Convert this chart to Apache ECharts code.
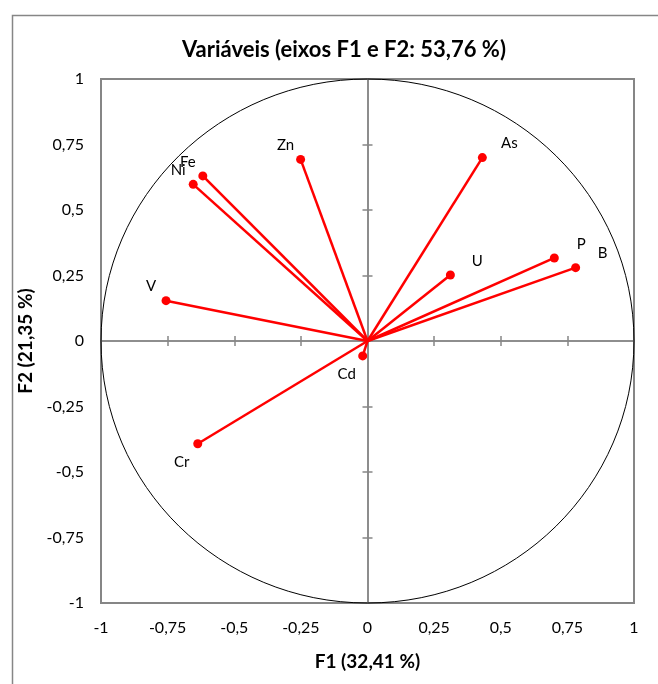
<!DOCTYPE html>
<html>
<head>
<meta charset="utf-8">
<script src="https://cdn.jsdelivr.net/npm/echarts@6/dist/echarts.min.js"></script>
<style>
  html, body { margin: 0; padding: 0; background: #fff; }
  #one { width: 658px; height: 684px; }
</style>
</head>
<body>
<div id="one"></div>
<script>
// variaveis e coordenadas (F1, F2)
var variables = ['Zn', 'Fe', 'Ni', 'V', 'As', 'U', 'P', 'B', 'Cd', 'Cr'];
var f1 = [-0.251, -0.618, -0.654, -0.756, 0.431, 0.311, 0.701, 0.781, -0.018, -0.637];
var f2 = [0.693, 0.630, 0.598, 0.154, 0.700, 0.252, 0.317, 0.280, -0.057, -0.392];
var tickLabels = ['-1', '-0,75', '-0,5', '-0,25', '0', '0,25', '0,5', '0,75', '1'];

var gray = '#868686';
var font = 'Lato';

function tickFmt(v) {
    return tickLabels[Math.round((v + 1) / 0.25)];
}

function labelOffset(x, y) {
    if (y < 0) return [-16, 18];
    if (x < 0) return [-15, -14];
    return [27, -14];
}

function baseAxis(pos) {
    return {
        type: 'value', min: -1, max: 1, interval: 0.25, position: pos,
        splitLine: { show: false },
        axisLabel: { show: false },
        axisTick: { show: false },
        axisLine: { show: false, onZero: false }
    };
}

// eixo com rotulos (na borda) + dois eixos no zero (marcas para os dois lados)
function axisSet(dim) {
    var pos = dim === 'x' ? 'bottom' : 'left';
    var labelAxis = baseAxis(pos);
    labelAxis.axisLabel = {
        show: true, formatter: tickFmt, color: '#000',
        fontFamily: font, fontSize: 16, margin: 17
    };
    labelAxis.nameLocation = 'middle';
    labelAxis.nameTextStyle = { fontFamily: font, fontWeight: 'bold', fontSize: 19, color: '#000' };
    if (dim === 'x') {
        labelAxis.name = 'F1 (32,41 %)';
        labelAxis.nameGap = 49;
    } else {
        labelAxis.name = 'F2 (21,35 %)';
        labelAxis.nameGap = 63;
        labelAxis.nameRotate = 90;
    }
    var list = [labelAxis];
    [false, true].forEach(function (inside) {
        var a = baseAxis(pos);
        a.axisLine = { show: true, onZero: true, lineStyle: { color: gray, width: 1.5 } };
        a.axisTick = { show: true, inside: inside, length: 5, lineStyle: { color: gray, width: 1.5 } };
        list.push(a);
    });
    return list;
}

var vecSeries = variables.map(function (n, i) {
    return {
        name: n,
        type: 'line',
        xAxisIndex: 0,
        yAxisIndex: 0,
        symbol: 'circle',
        symbolSize: 9,
        lineStyle: { color: '#ff0000', width: 2.5 },
        itemStyle: { color: '#ff0000' },
        z: 5,
        data: [
            { value: [0, 0], symbol: 'none', label: { show: false } },
            {
                value: [f1[i], f2[i]],
                label: {
                    show: true, formatter: n, position: 'inside',
                    offset: labelOffset(f1[i], f2[i]),
                    color: '#000', fontFamily: font, fontSize: 15
                }
            }
        ]
    };
});

var circle = {
    type: 'custom',
    xAxisIndex: 0,
    yAxisIndex: 0,
    silent: true,
    z: 1,
    data: [[0, 0]],
    renderItem: function (params, api) {
        var c = api.coord([0, 0]);
        var e = api.coord([1, 1]);
        return {
            type: 'ellipse',
            shape: { cx: c[0], cy: c[1], rx: e[0] - c[0], ry: c[1] - e[1] },
            style: { fill: 'none', stroke: '#000', lineWidth: 1 }
        };
    }
};

var myChart = echarts.init(document.getElementById('one'));
var option = {
    animation: false,
    backgroundColor: '#fff',
    title: {
        text: 'Variáveis (eixos F1 e F2: 53,76 %)',
        left: 177,
        top: 34,
        textStyle: { fontFamily: font, fontWeight: 'bold', fontSize: 22, color: '#000' }
    },
    graphic: [{
        type: 'rect',
        left: 10, top: 13,
        shape: { width: 700, height: 700 },
        style: { fill: 'none', stroke: gray, lineWidth: 1.5 },
        silent: true
    }],
    grid: {
        left: 101, top: 79, width: 533, height: 524,
        show: true, borderColor: gray, borderWidth: 2, backgroundColor: 'transparent'
    },
    xAxis: axisSet('x'),
    yAxis: axisSet('y'),
    series: [circle].concat(vecSeries)
};
myChart.setOption(option);
</script>
</body>
</html>
